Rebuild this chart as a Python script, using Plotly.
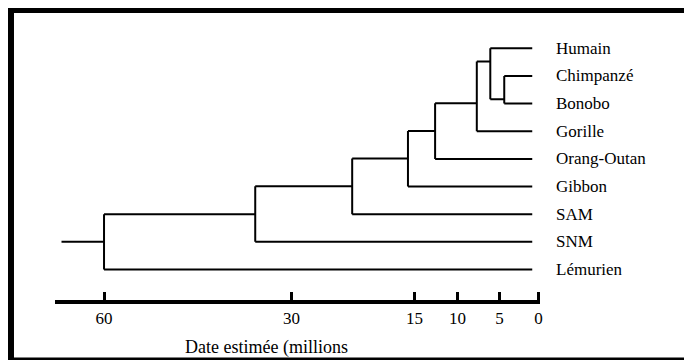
import numpy as np
import plotly.graph_objects as go

# ---------------- data ----------------
leaves = ["Humain", "Chimpanzé", "Bonobo", "Gorille", "Orang-Outan",
          "Gibbon", "SAM", "SNM", "Lémurien"]
leaf_tip_date = 0.8          # millions of years (tips drawn slightly short of 0)

# internal nodes: (child A, child B), estimated divergence date, drawn row
node_children = [("Chimpanzé", "Bonobo"), ("Humain", "n0"), ("n1", "Gorille"),
                 ("n2", "Orang-Outan"), ("n3", "Gibbon"), ("n4", "SAM"),
                 ("n5", "SNM"), ("n6", "Lémurien")]
node_dates = [4.4, 6.1, 7.7, 12.6, 15.8, 22.6, 35.8, 60.0]
node_rows = [1.84, 0.48, 1.99, 2.99, 3.99, 4.99, 6.0, 7.0]
root_stub_date = 66.8

tick_dates = [60, 30, 15, 10, 5, 0]
tick_labels = ["60", "30", "15", "10", "5", "0"]
x_title = "Date estimée (millions"

# hand-drawn (non-uniform) time scale: date -> horizontal position
scale_dates = [70, 60, 30, 15, 10, 5, 0]
scale_pos = [41.6, 104.3, 292.3, 415.7, 458.7, 501.0, 540.0]


def xpos(d):
    return float(np.interp(-d, [-v for v in scale_dates], scale_pos))


# ---------------- build tree segments ----------------
row = {name: i for i, name in enumerate(leaves)}
date = {name: leaf_tip_date for name in leaves}
for k, (a, b) in enumerate(node_children):
    row["n%d" % k] = node_rows[k]
    date["n%d" % k] = node_dates[k]

xs, ys = [], []
for k, (a, b) in enumerate(node_children):
    nd = node_dates[k]
    xs += [xpos(nd), xpos(nd), None]
    ys += [row[a], row[b], None]
    for c in (a, b):
        xs += [xpos(nd), xpos(date[c]), None]
        ys += [row[c], row[c], None]
xs += [xpos(root_stub_date), xpos(node_dates[-1]), None]
ys += [node_rows[-1], node_rows[-1], None]

# ---------------- layout helpers ----------------
W, H = 692, 360
OFF = 8            # page body margin of the browser
SERIF = "Liberation Serif"
ROW0, ROWSTEP = 48.3, 27.65   # vertical placement of the rows (px)


def fx(px):
    return (px - OFF) / W


def fy(py):
    return 1 - (py - OFF) / H


fig = go.Figure()
fig.add_trace(go.Scatter(x=xs, y=ys, mode="lines",
                         line=dict(color="black", width=2),
                         hoverinfo="skip", showlegend=False))

for i, name in enumerate(leaves):
    fig.add_annotation(x=fx(556), xref="paper", y=i, yref="y",
                       text=name, showarrow=False, xanchor="left",
                       yanchor="middle",
                       font=dict(family=SERIF, size=17, color="black"))

fig.add_annotation(x=fx(267), xref="paper", y=fy(347), yref="paper",
                   text=x_title, showarrow=False, xanchor="center",
                   yanchor="middle",
                   font=dict(family=SERIF, size=18, color="black"))

fig.add_shape(type="rect", xref="paper", yref="paper",
              x0=fx(11), x1=1.1, y0=fy(360.5), y1=fy(10),
              line=dict(color="black", width=6), fillcolor="rgba(0,0,0,0)")

fig.update_layout(
    width=W, height=H,
    margin=dict(l=0, r=0, t=0, b=0),
    paper_bgcolor="white", plot_bgcolor="white",
    showlegend=False,
    xaxis=dict(domain=[fx(55), fx(542)], range=[55, 542],
               anchor="free", position=fy(302),
               showgrid=False, zeroline=False,
               showline=True, linecolor="black", linewidth=4,
               ticks="inside", ticklen=8, tickwidth=3, tickcolor="black",
               tickvals=[xpos(d) for d in tick_dates], ticktext=tick_labels,
               tickfont=dict(family=SERIF, size=17, color="black"),
               fixedrange=True),
    yaxis=dict(domain=[0, 1],
               range=[(H + OFF - ROW0) / ROWSTEP, (OFF - ROW0) / ROWSTEP],
               visible=False, showgrid=False, zeroline=False,
               fixedrange=True),
)

fig.write_html("out.html")
